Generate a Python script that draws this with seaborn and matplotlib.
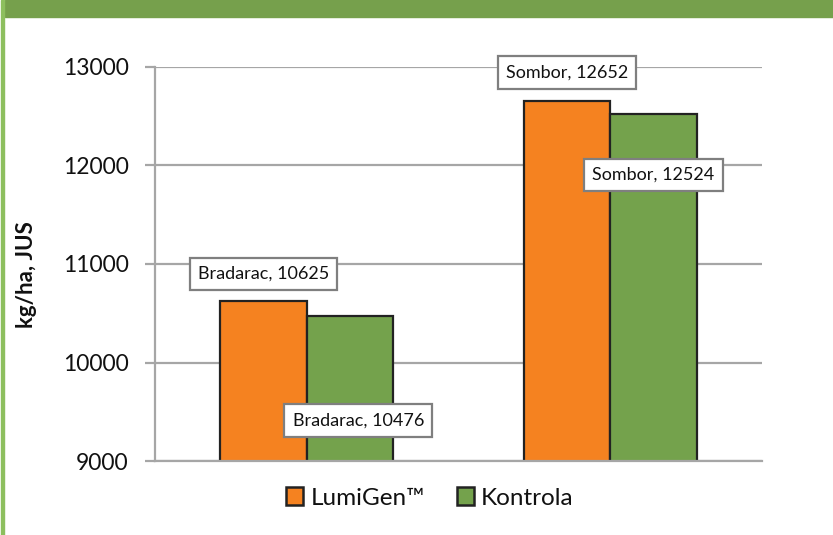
import matplotlib
matplotlib.use("Agg")
import matplotlib.pyplot as plt
import seaborn as sns
import pandas as pd
from matplotlib.patches import Rectangle

# ---- data ----
locations = ["Bradarac", "Sombor"]
series_names = ["LumiGen™", "Kontrola"]
lumigen_values = [10625, 12652]
kontrola_values = [10476, 12524]
y_ticks = [9000, 10000, 11000, 12000, 13000]
y_label = "kg/ha, JUS"

ORANGE = "#F58220"
GREEN = "#74A24C"

df = pd.DataFrame({
    "lokacija": locations * 2,
    "tretman": [series_names[0]] * len(locations) + [series_names[1]] * len(locations),
    "prinos": lumigen_values + kontrola_values,
})

sns.set_theme(style="white")
plt.rcParams["font.family"] = ["Lato", "DejaVu Sans"]

fig = plt.figure(figsize=(8.33, 5.35), dpi=100)
ax = fig.add_axes([0.186, 0.1376, 0.7288, 0.7379])

sns.barplot(data=df, x="lokacija", y="prinos", hue="tretman",
            order=locations, hue_order=series_names,
            palette=[ORANGE, GREEN], saturation=1, width=0.57, gap=0,
            edgecolor="#222222", linewidth=1.6, errorbar=None, ax=ax)

ax.set_ylim(9000, 13000)
ax.set_yticks(y_ticks)
ax.set_yticklabels([str(t) for t in y_ticks], fontsize=16.5, color="#111111")
ax.set_xticks([])
ax.set_xlabel("")
ax.set_ylabel(y_label, fontsize=16, fontweight="bold", color="#111111")
ax.yaxis.set_label_coords(-0.194, 0.473)

ax.grid(axis="y", color="#A6A6A6", linewidth=1.6)
ax.set_axisbelow(True)
for s in ["top", "right"]:
    ax.spines[s].set_visible(False)
for s in ["left", "bottom"]:
    ax.spines[s].set_color("#A6A6A6")
    ax.spines[s].set_linewidth(1.6)
ax.tick_params(axis="y", which="major", direction="out", length=7, width=1.6,
               color="#A6A6A6", left=True, pad=12)

# annotations (offsets in points: dx, dy)
offsets = {
    (0, 0): (0, 19.5), (0, 1): (0, 20.5),
    (1, 0): (6, -75.5), (1, 1): (0, -44),
}
for si, cont in enumerate(ax.containers):
    for li, bar in enumerate(cont):
        xc = bar.get_x() + bar.get_width() / 2
        val = bar.get_height()
        dx, dy = offsets[(si, li)]
        ax.annotate(f"{locations[li]}, {int(round(val))}", xy=(xc, val),
                    xytext=(dx, dy), textcoords="offset points",
                    ha="center", va="center", fontsize=13, color="#111111",
                    bbox=dict(boxstyle="square,pad=0.45", fc="white",
                              ec="#7F7F7F", lw=1.6),
                    annotation_clip=False, zorder=5)

# legend
leg = ax.legend(loc="center", bbox_to_anchor=(430 / 833, 1 - 498 / 535),
                bbox_transform=fig.transFigure, ncol=2, frameon=False,
                fontsize=17.5, handlelength=0.7, handleheight=0.7,
                handletextpad=0.3, columnspacing=1.3, borderaxespad=0)
for h in leg.legend_handles:
    h.set_edgecolor("#222222")
    h.set_linewidth(1.8)
for t in leg.get_texts():
    t.set_color("#111111")

# decorative frame elements: top banner and left line
fig.patches.append(Rectangle((5 / 833, 1 - 17 / 535), 1, 17 / 535,
                             transform=fig.transFigure, color="#76A04C", zorder=0))
fig.patches.append(Rectangle((1 / 833, 0), 3 / 833, 1,
                             transform=fig.transFigure, color="#8DBF5E", zorder=0))

fig.savefig("out.png", dpi=100)
